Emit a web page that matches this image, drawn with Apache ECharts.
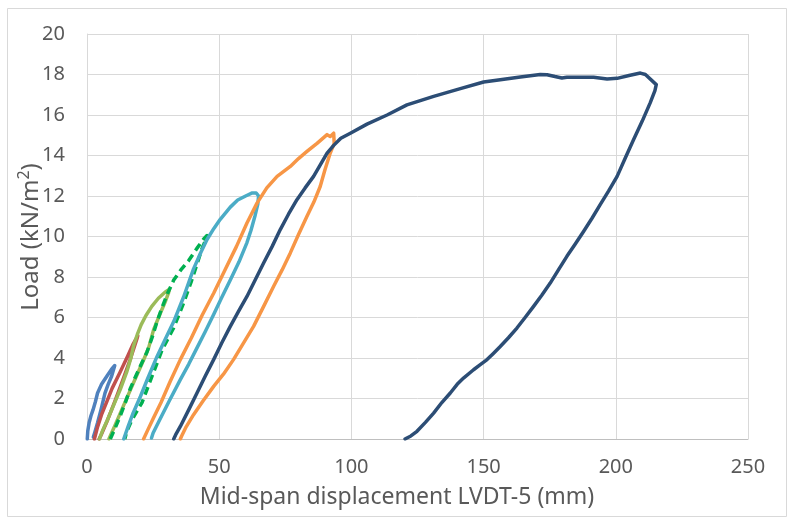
<!DOCTYPE html>
<html>
<head>
<meta charset="utf-8">
<script src="https://cdn.jsdelivr.net/npm/echarts@6/dist/echarts.min.js"></script>
<style>
  html, body { margin: 0; padding: 0; background: #ffffff; }
  #chart { width: 794px; height: 524px; }
</style>
</head>
<body>
<div id="chart"></div>
<script>
// Axis ranges: [min, max, step]
const xAxisRange = [0, 250, 50];
const yAxisRange = [0, 20, 2];

const xTitle = 'Mid-span displacement LVDT-5 (mm)';

// Load-displacement cycles: [displacement (mm), load (kN/m2)]
const cycle1 = [
  [0.1, 0], [0.3, 0.4], [0.8, 0.8], [1.5, 1.15], [2.3, 1.45], [3.2, 1.85], [4.0, 2.27],
  [5.5, 2.7], [7.5, 3.1], [9.3, 3.45], [10.5, 3.63], [11.0, 3.68],
  [10.6, 3.55], [9.3, 3.1], [8.0, 2.7], [6.8, 2.27], [5.3, 1.45], [4.0, 0.8], [3.0, 0.35], [2.4, 0.1]
];
const cycle2 = [
  [2.8, 0], [4.0, 0.6], [5.5, 1.2], [7.5, 1.85], [9.5, 2.5], [12.5, 3.3], [15.4, 4.1],
  [17.5, 4.7], [19.2, 5.1],
  [18.9, 4.95], [16.4, 3.95], [13.5, 2.9], [10.5, 1.85], [7.5, 0.85], [5.5, 0.25], [4.6, 0]
];
const cycle3 = [
  [4.7, 0], [6.0, 0.45], [7.6, 0.9], [10.0, 1.65], [12.6, 2.45], [15.0, 3.3], [16.5, 3.95],
  [17.6, 4.6], [19.0, 5.15], [20.5, 5.65], [22.3, 6.1], [24.5, 6.55], [27.0, 6.95],
  [29.5, 7.25], [31.2, 7.4],
  [30.8, 7.2], [29.5, 6.75], [27.7, 6.2], [25.2, 5.4], [23.3, 4.5], [21.4, 3.9], [19.0, 3.2],
  [16.0, 2.3], [13.0, 1.4], [10.5, 0.65], [8.8, 0.15], [8.3, 0]
];
const cycle4 = [
  [8.8, 0], [10.5, 0.5], [12.6, 1.15], [14.5, 1.8], [16.4, 2.5], [18.6, 3.15], [20.8, 3.78],
  [22.7, 4.3], [24.6, 5.0], [26.5, 5.8], [28.4, 6.5], [30.5, 7.2], [32.8, 7.85], [35.5, 8.35],
  [38.4, 8.8], [41.5, 9.4], [44.0, 9.85], [45.4, 10.05],
  [44.6, 9.75], [43.5, 9.4], [41.5, 8.6], [39.5, 7.8], [36.5, 6.7], [32.8, 5.5], [28.4, 4.4],
  [24.6, 3.1], [20.8, 1.8], [17.0, 0.95], [15.0, 0.35], [14.3, 0]
];
const cycle5 = [
  [13.9, 0], [15.5, 0.6], [17.5, 1.3], [20.2, 2.1], [23.0, 3.0], [26.5, 4.08], [29.5, 4.9],
  [32.8, 5.8], [36.5, 7.0], [40.3, 8.4], [43.0, 9.2], [45.4, 9.85], [48.0, 10.4], [50.4, 10.85],
  [54.2, 11.45], [57.0, 11.8], [60.0, 12.0], [62.5, 12.15], [64.0, 12.15], [64.9, 12.0],
  [64.6, 11.6], [63.5, 11.0], [62.0, 10.3], [60.5, 9.7], [57.5, 8.75], [54.2, 7.85], [51.0, 7.0],
  [47.9, 6.15], [44.7, 5.3], [41.6, 4.5], [38.5, 3.7], [35.3, 2.93], [31.0, 1.85], [27.5, 0.95],
  [25.0, 0.3], [24.4, 0.05]
];
const cycle6 = [
  [21.4, 0], [23.0, 0.45], [25.0, 1.0], [28.0, 1.8], [31.5, 2.85], [35.3, 3.92], [39.5, 5.0],
  [43.5, 6.1], [47.9, 7.2], [52.0, 8.3], [56.5, 9.5], [60.5, 10.67], [64.3, 11.65], [68.0, 12.4],
  [71.9, 12.97], [76.9, 13.46], [80.0, 13.85], [83.2, 14.2], [87.0, 14.6], [90.8, 15.03],
  [92.0, 14.94], [93.3, 15.1], [93.9, 15.03],
  [93.5, 14.6], [92.0, 14.12], [90.0, 13.3], [88.2, 12.47], [85.8, 11.7], [83.2, 11.0],
  [80.0, 10.1], [76.9, 9.19], [73.8, 8.35], [70.6, 7.54], [67.0, 6.6], [63.0, 5.56], [59.0, 4.7],
  [55.4, 3.92], [51.6, 3.2], [47.9, 2.6], [44.0, 1.9], [40.3, 1.2], [37.5, 0.6], [35.8, 0.15],
  [35.3, 0]
];
const cycle7 = [
  [32.8, 0], [33.5, 0.2], [35.3, 0.62], [38.5, 1.45], [41.6, 2.27], [44.7, 3.1], [47.9, 3.92],
  [51.0, 4.75], [54.2, 5.56], [57.3, 6.3], [60.5, 7.04], [63.6, 7.85], [66.8, 8.69], [70.0, 9.5],
  [73.1, 10.34], [76.2, 11.1], [79.4, 11.82], [82.5, 12.4], [85.7, 12.97], [88.5, 13.6],
  [90.8, 14.12], [93.3, 14.5], [96.0, 14.85], [99.6, 15.1], [105.9, 15.55], [113.5, 16.0],
  [121.0, 16.5], [131.1, 16.92], [141.2, 17.3], [150.0, 17.63], [156.3, 17.74], [163.9, 17.88],
  [171.4, 18.0], [174.0, 17.99], [177.0, 17.9], [179.6, 17.83], [181.5, 17.86], [191.6, 17.86],
  [196.7, 17.78], [200.5, 17.81], [205.0, 17.95], [209.3, 18.07], [211.2, 18.0], [215.3, 17.5],
  [214.8, 17.2], [213.0, 16.6], [210.0, 15.7], [206.7, 14.78], [203.5, 13.85], [200.5, 12.97],
  [197.3, 12.25], [194.1, 11.57], [191.0, 10.9], [187.8, 10.25], [184.6, 9.62], [181.5, 9.02],
  [178.3, 8.35], [175.2, 7.7], [172.0, 7.1], [168.9, 6.55], [165.7, 6.0], [162.6, 5.48],
  [159.4, 5.0], [156.3, 4.57], [153.5, 4.2], [151.3, 3.92], [148.5, 3.65], [146.2, 3.42],
  [142.4, 3.01], [140.0, 2.7], [137.4, 2.27], [134.2, 1.8], [131.1, 1.28], [128.0, 0.82],
  [124.8, 0.38], [122.5, 0.15], [121.0, 0.05], [120.3, 0]
];

const cycles = [cycle1, cycle2, cycle3, cycle4, cycle5, cycle6, cycle7];
const cycleColors = ['#4F81BD', '#C0504D', '#9BBB59', '#00B050', '#4BACC6', '#F79646', '#2C4D75'];
const cycleDashed = [false, false, false, true, false, false, false];

const FONT = '"Noto Sans", "Open Sans", sans-serif';
const TEXT = '#595959';
const GRID_LINE = '#D9D9D9';

const chart = echarts.init(document.getElementById('chart'), null, { renderer: 'canvas' });

chart.setOption({
  animation: false,
  backgroundColor: '#ffffff',
  grid: { left: 87, right: 46, top: 34, bottom: 85, containLabel: false },
  xAxis: {
    type: 'value',
    min: xAxisRange[0], max: xAxisRange[1], interval: xAxisRange[2],
    axisLine: { show: true, lineStyle: { color: '#BFBFBF', width: 1 } },
    axisTick: { show: false },
    axisLabel: { color: TEXT, fontFamily: FONT, fontSize: 20, margin: 18 },
    splitLine: { show: true, lineStyle: { color: GRID_LINE, width: 1 } }
  },
  yAxis: {
    type: 'value',
    min: yAxisRange[0], max: yAxisRange[1], interval: yAxisRange[2],
    axisLine: { show: true, lineStyle: { color: GRID_LINE, width: 1 } },
    axisTick: { show: false },
    axisLabel: { color: TEXT, fontFamily: FONT, fontSize: 20, margin: 22 },
    splitLine: { show: true, lineStyle: { color: GRID_LINE, width: 1 } }
  },
  graphic: [
    {
      type: 'rect', silent: true, z: -1,
      shape: { x: 7.5, y: 8.5, width: 779, height: 508 },
      style: { fill: null, stroke: '#D9D9D9', lineWidth: 1 }
    },
    {
      type: 'text', silent: true,
      x: 397, y: 497,
      style: {
        text: xTitle, fill: TEXT, font: '23px ' + FONT,
        align: 'center', verticalAlign: 'middle'
      }
    },
    {
      type: 'text', silent: true,
      x: 31, y: 237, rotation: Math.PI / 2,
      style: {
        text: '{a|Load (kN/m}{b|2}{a|)}',
        align: 'center', verticalAlign: 'middle',
        rich: {
          a: { fill: TEXT, fontFamily: FONT, fontSize: 24, lineHeight: 30 },
          b: { fill: TEXT, fontFamily: FONT, fontSize: 16, lineHeight: 30, verticalAlign: 'top' }
        }
      }
    }
  ],
  series: cycles.map((pts, i) => ({
    type: 'line',
    data: pts,
    showSymbol: false,
    smooth: false,
    silent: true,
    lineStyle: {
      color: cycleColors[i],
      width: 3.5,
      type: cycleDashed[i] ? [8, 5] : 'solid',
      cap: cycleDashed[i] ? 'butt' : 'round',
      join: 'round'
    }
  }))
});
</script>
</body>
</html>
